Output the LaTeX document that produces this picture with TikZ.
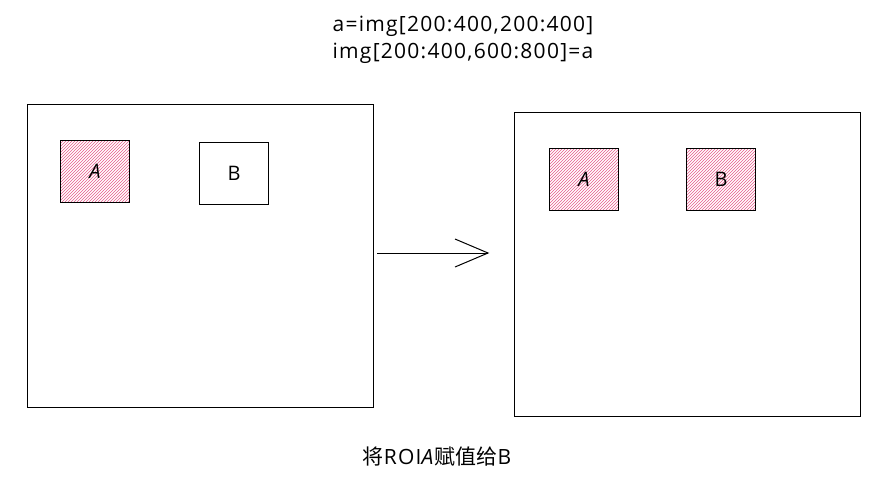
\documentclass[tikz,border=0pt]{standalone}
\usepackage{fontspec}
\setmainfont{Open Sans}[LetterSpace=6]
\newfontfamily\cjk{Noto Sans CJK SC}
\usetikzlibrary{patterns}
\definecolor{hatch}{RGB}{224,49,110}
\begin{document}
\begin{tikzpicture}[x=1pt,y=-1pt,
  frame/.style={draw=black,line width=1pt},
  roi/.style={draw=black,line width=1pt,minimum width=69pt,minimum height=62pt,font=\fontsize{20}{24}\selectfont},
  hatched/.style={roi,fill=hatch!10,pattern color=hatch!80,pattern=north east lines},
  lbl/.style={font=\fontsize{20}{24}\selectfont},
  txt/.style={font=\fontsize{21}{27}\selectfont}]
\useasboundingbox (0,0) rectangle (893,483);
\node[frame,minimum width=346pt,minimum height=303pt,inner sep=0pt] (L) at (200,255.5) {};
\node[frame,minimum width=346pt,minimum height=304pt,inner sep=0pt] (R) at (687,264) {};
\node[hatched] (LA) at (95,171) {};
\node[lbl] at (LA) {\itshape A};
\node[roi] (LB) at (234,173) {B};
\node[hatched] (RA) at (584,179) {};
\node[lbl] at (RA) {\itshape A};
\node[hatched] (RB) at (721,179) {};
\node[lbl] at (RB) {B};
\coordinate (s) at (377,253);
\coordinate (e) at (488,253);
\draw[line width=1pt] (s) -- (e);
\draw[line width=1pt] (455,239) -- (e) -- (455,267);
\node[txt,align=center] (t) at (463,40) {a=img[200:400,200:400]\\img[200:400,600:800]=a};
\node[txt] (b) at (437,457) {{\cjk 将}ROI\textit{A}{\cjk 赋值给}B};
\end{tikzpicture}
\end{document}
